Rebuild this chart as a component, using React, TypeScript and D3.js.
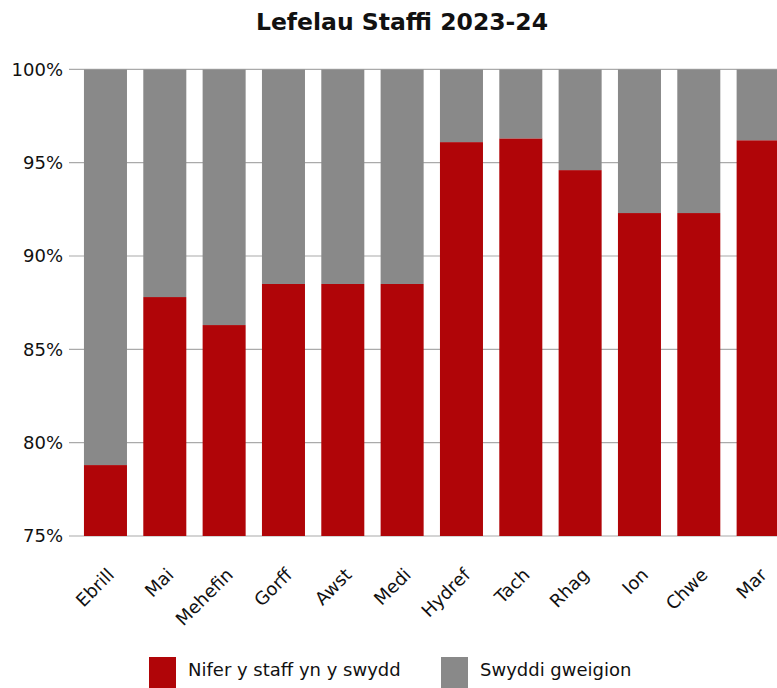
import React, { useEffect, useRef } from "react";
import * as d3 from "d3";

const months = ["Ebrill", "Mai", "Mehefin", "Gorff", "Awst", "Medi", "Hydref", "Tach", "Rhag", "Ion", "Chwe", "Mar"];
const staffInPost = [78.8, 87.8, 86.3, 88.5, 88.5, 88.5, 96.1, 96.3, 94.6, 92.3, 92.3, 96.2];
const vacancies = [21.2, 12.2, 13.7, 11.5, 11.5, 11.5, 3.9, 3.7, 5.4, 7.7, 7.7, 3.8];
const yTicks = [75, 80, 85, 90, 95, 100];
const seriesNames = ["Nifer y staff yn y swydd", "Swyddi gweigion"];
const colors = ["#b00508", "#898989"];

function App() {
  const ref = useRef(null);

  useEffect(() => {
    const svg = d3.select(ref.current);
    svg.selectAll("*").remove();
    const font = "DejaVu Sans";

    const x = d3.scaleBand().domain(months).range([75.8, 787.8]).paddingInner(0.275).paddingOuter(0.1375);
    const y = d3.scaleLinear().domain([75, 100]).range([536, 69.3]);

    const rows = months.map((m, i) => ({ month: m, staff: staffInPost[i], vac: vacancies[i] }));
    const stack = d3.stack().keys(["staff", "vac"]);
    const series = stack(rows);

    // gridlines
    svg.append("g")
      .selectAll("line")
      .data(yTicks)
      .enter()
      .append("line")
      .attr("x1", 69)
      .attr("x2", 777)
      .attr("y1", d => y(d))
      .attr("y2", d => y(d))
      .attr("stroke", "#aaaaaa")
      .attr("stroke-width", 1.2);

    svg.append("g")
      .selectAll("text")
      .data(yTicks)
      .enter()
      .append("text")
      .attr("x", 63)
      .attr("y", d => y(d))
      .attr("dy", "0.35em")
      .attr("text-anchor", "end")
      .attr("font-family", font)
      .attr("font-size", 18)
      .attr("fill", "#111")
      .text(d => d + "%");

    // bars (clipped to the axis range)
    svg.append("clipPath").attr("id", "plot-clip")
      .append("rect").attr("x", 0).attr("y", y(100)).attr("width", 800).attr("height", y(75) - y(100));

    series.forEach((s, si) => {
      svg.append("g")
        .attr("clip-path", "url(#plot-clip)")
        .selectAll("rect")
        .data(s)
        .enter()
        .append("rect")
        .attr("x", d => x(d.data.month))
        .attr("width", x.bandwidth())
        .attr("y", d => y(Math.min(d[1], 100)))
        .attr("height", d => y(Math.max(d[0], 75)) - y(Math.min(d[1], 100)))
        .attr("fill", colors[si]);
    });

    // x labels
    svg.append("g")
      .selectAll("text")
      .data(months)
      .enter()
      .append("text")
      .attr("transform", d => `translate(${x(d) + x.bandwidth() / 2 + 1},${567}) rotate(-45)`)
      .attr("text-anchor", "end")
      .attr("dy", "0.7em")
      .attr("font-family", font)
      .attr("font-size", 18)
      .attr("fill", "#111")
      .text(d => d);

    // title
    svg.append("text")
      .attr("x", 402)
      .attr("y", 30)
      .attr("text-anchor", "middle")
      .attr("font-family", font)
      .attr("font-weight", "bold")
      .attr("font-size", 23.5)
      .attr("fill", "#111")
      .text("Lefelau Staffi 2023-24");

    // legend
    const legendX = [149, 441];
    const lg = svg.append("g")
      .selectAll("g")
      .data(seriesNames)
      .enter()
      .append("g")
      .attr("transform", (d, i) => `translate(${legendX[i]},657)`);
    lg.append("rect").attr("width", 27).attr("height", 31).attr("fill", (d, i) => colors[i]);
    lg.append("text")
      .attr("x", 39)
      .attr("y", 19)
      .attr("font-family", font)
      .attr("font-size", 18)
      .attr("fill", "#111")
      .text(d => d);
  }, []);

  return (
    <svg ref={ref} width={777} height={688} style={{ position: "absolute", left: 0, top: 0, background: "#fff" }} />
  );
}

export default App;
